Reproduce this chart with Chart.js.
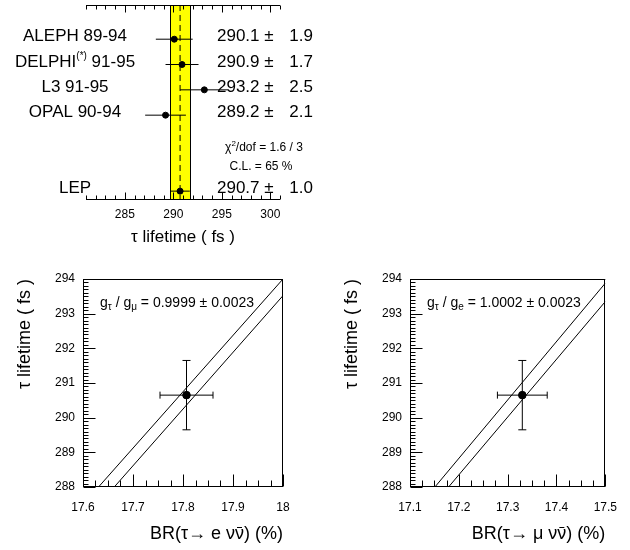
<!DOCTYPE html>
<html>
<head>
<meta charset="utf-8">
<script src="https://cdn.jsdelivr.net/npm/chart.js@4.4.1/dist/chart.umd.min.js"></script>
<style>
  html, body { margin: 0; padding: 0; background: #fff; }
  #wrap { position: relative; width: 630px; height: 550px; }
  #wrap canvas { position: absolute; left: 0; top: 0; }
</style>
</head>
<body>
<div id="wrap">
  <canvas id="lifetimeChart" width="630" height="550"></canvas>
  <canvas id="electronChart" width="630" height="550"></canvas>
  <canvas id="muonChart" width="630" height="550"></canvas>
</div>
<script>
// ---- top panel: tau lifetime per experiment ----
var expNames = ["ALEPH", "DELPHI", "L3", "OPAL", "LEP"];
var expSup = ["", "(*)", "", "", ""];
var expYears = ["89-94", "91-95", "91-95", "90-94", ""];
var lifetimes = [290.1, 290.9, 293.2, 289.2, 290.7];
var lifetimeErrs = [1.9, 1.7, 2.5, 2.1, 1.0];
var expRows = [1, 2, 3, 4, 7];
var lifetimeTicks = [285, 290, 295, 300];
var chi2Text = ["1.6 / 3", "65 %"];

// ---- bottom panels: lifetime vs leptonic branching ratio ----
var tauPoint = 290.65;
var tauPointErr = 1.0;
var brE = 17.807, brEErr = 0.053;
var brMu = 17.33, brMuErr = 0.051;
var tauTicks = [288, 289, 290, 291, 292, 293, 294];
var brETicks = [17.6, 17.7, 17.8, 17.9, 18];
var brMuTicks = [17.1, 17.2, 17.3, 17.4, 17.5];
// universality band edges (BR, tau)
var eUpperX = [17.631, 18.0], eUpperY = [288, 294];
var eLowerX = [17.6625, 18.0], eLowerY = [288, 293.52];
var muUpperX = [17.151, 17.5], muUpperY = [288, 293.88];
var muLowerX = [17.179, 17.5], muLowerY = [288, 293.35];
var couplingE = ["0.9999", "0.0023"];
var couplingMu = ["1.0002", "0.0023"];

var FONT = '"Liberation Sans", Arial, Helvetica, sans-serif';
var XTITLE_SIZE = 18;
var XTITLE_PAD = 5;

function pts(xs, ys) {
  return xs.map(function (v, i) { return { x: v, y: ys[i] }; });
}

// draw text made of pieces [text, size, dy]
function drawParts(ctx, parts, x, y, align) {
  var w = 0;
  parts.forEach(function (p) {
    ctx.font = p[1] + "px " + FONT;
    w += ctx.measureText(p[0]).width;
  });
  var cx = align == "center" ? x - w / 2 : (align == "right" ? x - w : x);
  parts.forEach(function (p) {
    ctx.font = p[1] + "px " + FONT;
    ctx.fillText(p[0], cx, y + (p[2] || 0));
    cx += ctx.measureText(p[0]).width;
  });
}

// frame lines + inward tick marks
const frameTicks = {
  id: "frameTicks",
  afterDatasetsDraw(chart, args, o) {
    const ctx = chart.ctx, a = chart.chartArea;
    const x = chart.scales.x, y = chart.scales.y;
    const L = Math.round(a.left) + 0.5, R = Math.round(a.right) - 0.5;
    const T = Math.round(a.top) + 0.5, B = Math.round(a.bottom) - 0.5;
    ctx.save();
    ctx.strokeStyle = "#000";
    ctx.lineWidth = 1;
    ctx.beginPath();
    o.sides.forEach(function (s) {
      if (s == "top") { ctx.moveTo(a.left, T); ctx.lineTo(a.right, T); }
      if (s == "bottom") { ctx.moveTo(a.left, B); ctx.lineTo(a.right, B); }
      if (s == "left") { ctx.moveTo(L, a.top); ctx.lineTo(L, a.bottom); }
      if (s == "right") { ctx.moveTo(R, a.top); ctx.lineTo(R, a.bottom); }
    });
    function isMajor(v, majors) {
      return majors.some(function (m) { return Math.abs(m - v) < 1e-6; });
    }
    if (o.xTicks) {
      const t = o.xTicks;
      const n = Math.round((x.max - x.min) / t.minor);
      for (let i = 0; i <= n; i++) {
        const v = x.min + i * t.minor;
        const len = isMajor(v, t.major) ? t.majorLen : t.minorLen;
        const px = Math.round(x.getPixelForValue(v)) + 0.5;
        t.sides.forEach(function (s) {
          if (s == "bottom") { ctx.moveTo(px, B); ctx.lineTo(px, B - len); }
          if (s == "top") { ctx.moveTo(px, T); ctx.lineTo(px, T + len); }
        });
      }
    }
    if (o.yTicks) {
      const t = o.yTicks;
      const n = Math.round((y.max - y.min) / t.minor);
      for (let i = 0; i <= n; i++) {
        const v = y.min + i * t.minor;
        const len = isMajor(v, t.major) ? t.majorLen : t.minorLen;
        const py = Math.round(y.getPixelForValue(v)) + 0.5;
        ctx.moveTo(L, py); ctx.lineTo(L + len, py);
      }
    }
    ctx.stroke();
    ctx.restore();
  }
};

// yellow LEP band behind the measurements
const lepBand = {
  id: "lepBand",
  beforeDatasetsDraw(chart) {
    const ctx = chart.ctx, a = chart.chartArea, x = chart.scales.x;
    const i = expNames.indexOf("LEP");
    const x1 = Math.round(x.getPixelForValue(lifetimes[i] - lifetimeErrs[i])) + 0.5;
    const x2 = Math.round(x.getPixelForValue(lifetimes[i] + lifetimeErrs[i])) + 0.5;
    ctx.save();
    ctx.fillStyle = "#ffff00";
    ctx.fillRect(x1, a.top, x2 - x1, a.bottom - a.top);
    ctx.strokeStyle = "#000";
    ctx.lineWidth = 1;
    ctx.beginPath();
    ctx.moveTo(x1, a.top); ctx.lineTo(x1, a.bottom);
    ctx.moveTo(x2, a.top); ctx.lineTo(x2, a.bottom);
    ctx.stroke();
    ctx.restore();
  }
};

// experiment names and values
const lifetimeText = {
  id: "lifetimeText",
  afterDraw(chart) {
    const ctx = chart.ctx, y = chart.scales.y;
    ctx.save();
    ctx.fillStyle = "#000";
    ctx.textBaseline = "alphabetic";
    expNames.forEach(function (n, i) {
      const py = y.getPixelForValue(expRows[i]) + 2;
      const parts = [[n, 17]];
      if (expSup[i]) parts.push([expSup[i], 10, -8]);
      if (expYears[i]) parts.push([" " + expYears[i], 17]);
      drawParts(ctx, parts, 75, py, "center");
      ctx.font = "17px " + FONT;
      ctx.textAlign = "left";
      ctx.fillText(lifetimes[i].toFixed(1) + " \u00B1", 217, py);
      ctx.textAlign = "right";
      ctx.fillText(lifetimeErrs[i].toFixed(1), 313, py);
      ctx.textAlign = "left";
    });
    drawParts(ctx, [["\u03C7", 12], ["2", 8, -5], ["/dof = " + chi2Text[0], 12]], 264, 151, "center");
    drawParts(ctx, [["C.L. = " + chi2Text[1], 12]], 261, 170, "center");
    ctx.restore();
  }
};

// coupling ratio text + antineutrino bar in the bottom panels
const couplingText = {
  id: "couplingText",
  afterDraw(chart, args, o) {
    const ctx = chart.ctx, a = chart.chartArea, xs = chart.scales.x;
    ctx.save();
    ctx.fillStyle = "#000";
    drawParts(ctx, [
      ["g", 14], ["\u03C4", 10, 3], [" / g", 14], [o.sub, 10, 3],
      [" = " + o.val[0] + " \u00B1 " + o.val[1], 14]
    ], a.left + 17, a.top + 28, "left");
    // macron over the second nu of the axis title
    ctx.font = XTITLE_SIZE + "px " + FONT;
    const tail = ctx.measureText(") (%)").width;
    const nu = ctx.measureText("\u03BD").width;
    const cy = xs.bottom - XTITLE_PAD - XTITLE_SIZE * 1.2 / 2;
    const x2 = a.right - tail, x1 = x2 - nu;
    ctx.strokeStyle = "#000";
    ctx.lineWidth = 1;
    ctx.beginPath();
    ctx.moveTo(x1 + 2, Math.round(cy - 7) + 0.5);
    ctx.lineTo(x2 - 2, Math.round(cy - 7) + 0.5);
    ctx.stroke();
    ctx.restore();
  }
};

// ---- top chart ----
const topDatasets = [];
lifetimes.forEach(function (v, i) {
  topDatasets.push({
    type: "scatter",
    data: [{ x: v - lifetimeErrs[i], y: expRows[i] }, { x: v + lifetimeErrs[i], y: expRows[i] }],
    showLine: true, borderColor: "#000", borderWidth: 1, pointRadius: 0, order: 2
  });
});
topDatasets.push({
  type: "scatter",
  data: [{ x: lifetimes[4], y: -0.35 }, { x: lifetimes[4], y: 7.35 }],
  showLine: true, borderColor: "#000", borderWidth: 1, borderDash: [6, 4], pointRadius: 0, order: 3
});
topDatasets.push({
  type: "scatter",
  data: lifetimes.map(function (v, i) { return { x: v, y: expRows[i] }; }),
  pointRadius: 3, pointBackgroundColor: "#000", pointBorderColor: "#000", order: 0
});

new Chart(document.getElementById("lifetimeChart"), {
  type: "scatter",
  data: { datasets: topDatasets },
  options: {
    responsive: false,
    animation: false,
    events: [],
    layout: { padding: { left: 86, right: 350, top: 5, bottom: 300 } },
    plugins: {
      legend: { display: false },
      tooltip: { enabled: false },
      frameTicks: {
        sides: ["top", "bottom"],
        xTicks: { minor: 1, major: lifetimeTicks, majorLen: 7, minorLen: 4, sides: ["top", "bottom"] }
      }
    },
    scales: {
      x: {
        type: "linear", min: 281, max: 301,
        grid: { display: false, drawTicks: false, tickLength: 0 },
        border: { display: false },
        afterBuildTicks: function (s) { s.ticks = lifetimeTicks.map(function (v) { return { value: v }; }); },
        afterFit: function (s) { s.height = 50; },
        ticks: { padding: 7, color: "#000", font: { family: FONT, size: 12 }, maxRotation: 0 },
        title: { display: true, text: "\u03C4 lifetime ( fs )", color: "#000", font: { family: FONT, size: 17 }, padding: { top: 0, bottom: 2 } }
      },
      y: { type: "linear", min: -0.35, max: 7.35, reverse: true, display: false }
    }
  },
  plugins: [lepBand, frameTicks, lifetimeText]
});

// ---- bottom charts ----
function bottomChart(id, padL, padR, br, brErr, brTicks, upX, upY, loX, loY, title, sub, val) {
  const datasets = [
    { type: "scatter", data: pts(upX, upY), showLine: true, borderColor: "#000", borderWidth: 1, pointRadius: 0, order: 3 },
    { type: "scatter", data: pts(loX, loY), showLine: true, borderColor: "#000", borderWidth: 1, pointRadius: 0, order: 3 },
    { type: "scatter", data: [{ x: br - brErr, y: tauPoint }, { x: br + brErr, y: tauPoint }],
      showLine: true, borderColor: "#000", borderWidth: 1,
      pointStyle: "line", pointRadius: 3.5, pointRotation: 90, pointBorderColor: "#000", pointBorderWidth: 1, order: 2 },
    { type: "scatter", data: [{ x: br, y: tauPoint - tauPointErr }, { x: br, y: tauPoint + tauPointErr }],
      showLine: true, borderColor: "#000", borderWidth: 1,
      pointStyle: "line", pointRadius: 4, pointRotation: 0, pointBorderColor: "#000", pointBorderWidth: 1, order: 2 },
    { type: "scatter", data: [{ x: br, y: tauPoint }], pointRadius: 3.8,
      pointBackgroundColor: "#000", pointBorderColor: "#000", order: 0 }
  ];
  return new Chart(document.getElementById(id), {
    type: "scatter",
    data: { datasets: datasets },
    options: {
      responsive: false,
      animation: false,
      events: [],
      layout: { padding: { left: padL, right: padR, top: 279, bottom: 0 } },
      plugins: {
        legend: { display: false },
        tooltip: { enabled: false },
        frameTicks: {
          sides: ["top", "bottom", "left", "right"],
          xTicks: { minor: 0.025, major: brTicks, majorLen: 12, minorLen: 6, sides: ["bottom"] },
          yTicks: { minor: 0.1, major: tauTicks, majorLen: 12, minorLen: 5 }
        },
        couplingText: { sub: sub, val: val }
      },
      scales: {
        x: {
          type: "linear", min: brTicks[0], max: brTicks[brTicks.length - 1],
          grid: { display: false, drawTicks: false, tickLength: 0 },
          border: { display: false },
          afterBuildTicks: function (s) { s.ticks = brTicks.map(function (v) { return { value: v }; }); },
          afterFit: function (s) { s.height = 63; },
          ticks: { padding: 13, color: "#000", font: { family: FONT, size: 12 }, maxRotation: 0,
            callback: function (v) { return String(Math.round(v * 10) / 10); } },
          title: { display: true, text: title, align: "end", color: "#000", font: { family: FONT, size: XTITLE_SIZE }, padding: { top: 0, bottom: XTITLE_PAD } }
        },
        y: {
          type: "linear", min: 288, max: 294,
          grid: { display: false, drawTicks: false, tickLength: 0 },
          border: { display: false },
          afterBuildTicks: function (s) { s.ticks = tauTicks.map(function (v) { return { value: v }; }); },
          afterFit: function (s) { s.width = 73; },
          ticks: { padding: 8, color: "#000", font: { family: FONT, size: 12 },
            callback: function (v) { return String(v); } },
          title: { display: true, text: "\u03C4 lifetime ( fs )", align: "end", color: "#000", font: { family: FONT, size: 18 }, padding: { top: 4, bottom: 0 } }
        }
      }
    },
    plugins: [frameTicks, couplingText]
  });
}

bottomChart("electronChart", 10, 347, brE, brEErr, brETicks, eUpperX, eUpperY, eLowerX, eLowerY,
  "BR(\u03C4\u2192 e \u03BD\u03BD) (%)", "\u03BC", couplingE);
bottomChart("muonChart", 337, 18, brMu, brMuErr, brMuTicks, muUpperX, muUpperY, muLowerX, muLowerY,
  "BR(\u03C4\u2192 \u03BC \u03BD\u03BD) (%)", "e", couplingMu);
</script>
</body>
</html>
